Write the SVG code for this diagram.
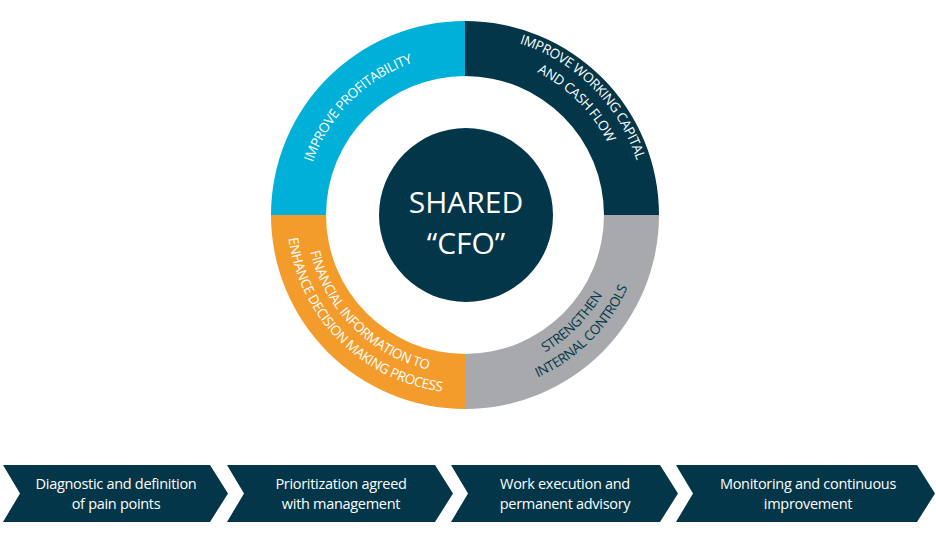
<svg xmlns="http://www.w3.org/2000/svg" width="936" height="547" viewBox="0 0 936 547">
<style>
.rt{font-family:"Open Sans","Liberation Sans",sans-serif;font-size:13.5px;fill:#fff;letter-spacing:-0.4px}
.dk{fill:#023648}
.ct{font-family:"Open Sans","Liberation Sans",sans-serif;font-size:30px;fill:#fff;text-anchor:middle}
.st{font-family:"Open Sans","Liberation Sans",sans-serif;font-size:14.5px;fill:#fff;text-anchor:middle;letter-spacing:-0.3px}
.chev{fill:#023648}
</style>
<defs>
<path id="tl1" d="M304,215 A161,161 0 0 1 465,54"/>
<path id="tr1" d="M465,35 A180,180 0 0 1 645,215"/>
<path id="tr2" d="M465,55 A160,160 0 0 1 625,215"/>
<path id="br1" d="M465,374 A159,159 0 0 0 624,215"/>
<path id="br2" d="M465,393 A178,178 0 0 0 643,215"/>
<path id="bl1" d="M306,215 A159,159 0 0 0 465,374"/>
<path id="bl2" d="M287,215 A178,178 0 0 0 465,393"/>
</defs>
<g id="ring">
<path id="seg-profit" d="M271,215 A194,194 0 0 1 465,21 L465,76 A139,139 0 0 0 326,215 Z" fill="#00b0d8"/>
<path id="seg-wc" d="M465,21 A194,194 0 0 1 659,215 L604,215 A139,139 0 0 0 465,76 Z" fill="#023648"/>
<path id="seg-ic" d="M659,215 A194,194 0 0 1 465,409 L465,354 A139,139 0 0 0 604,215 Z" fill="#a7a9ac"/>
<path id="seg-fi" d="M465,409 A194,194 0 0 1 271,215 L326,215 A139,139 0 0 0 465,354 Z" fill="#f39c2c"/>
<text class="rt"><textPath href="#tl1" startOffset="50%" text-anchor="middle">IMPROVE PROFITABILITY</textPath></text>
<text class="rt"><textPath href="#tr1" startOffset="50%" text-anchor="middle">IMPROVE WORKING CAPITAL</textPath></text>
<text class="rt"><textPath href="#tr2" startOffset="50%" text-anchor="middle">AND CASH FLOW</textPath></text>
<text class="rt dk"><textPath href="#br1" startOffset="50%" text-anchor="middle">STRENGTHEN</textPath></text>
<text class="rt dk"><textPath href="#br2" startOffset="50%" text-anchor="middle">INTERNAL CONTROLS</textPath></text>
<text class="rt"><textPath href="#bl1" startOffset="50%" text-anchor="middle">FINANCIAL INFORMATION TO</textPath></text>
<text class="rt"><textPath href="#bl2" startOffset="50%" text-anchor="middle">ENHANCE DECISION MAKING PROCESS</textPath></text>
</g>
<g id="center">
<circle cx="466" cy="215" r="87" fill="#023648"/>
<text class="ct" x="466" y="213">SHARED</text>
<text class="ct" x="466" y="254">“CFO”</text>
</g>
<g id="step1">
<path class="chev" d="M3,465 L210,465 L228,493.5 L210,522 L3,522 L20,493.5 Z"/>
<text class="st" x="116" y="489">Diagnostic and definition</text>
<text class="st" x="116" y="509">of pain points</text>
</g>
<g id="step2">
<path class="chev" d="M227,465 L435,465 L453,493.5 L435,522 L227,522 L244,493.5 Z"/>
<text class="st" x="341" y="489">Prioritization agreed</text>
<text class="st" x="341" y="509">with management</text>
</g>
<g id="step3">
<path class="chev" d="M451,465 L660,465 L678,493.5 L660,522 L451,522 L468,493.5 Z"/>
<text class="st" x="565" y="489">Work execution and</text>
<text class="st" x="565" y="509">permanent advisory</text>
</g>
<g id="step4">
<path class="chev" d="M676,465 L917,465 L935,493.5 L917,522 L676,522 L693,493.5 Z"/>
<text class="st" x="808" y="489">Monitoring and continuous</text>
<text class="st" x="808" y="509">improvement</text>
</g>
<g id="connectors"></g>
</svg>
